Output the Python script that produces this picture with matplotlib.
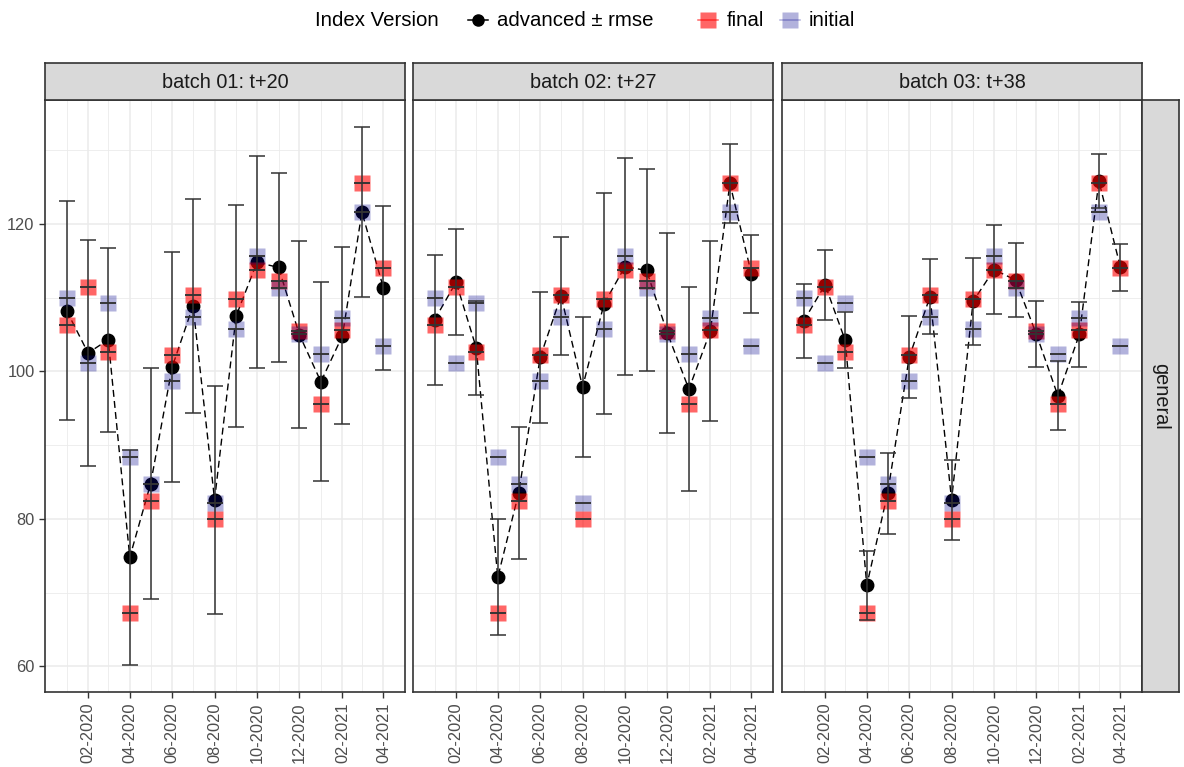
import matplotlib
matplotlib.use('Agg')
from matplotlib import pyplot as plt
from matplotlib.lines import Line2D
import matplotlib.dates as mdates
import numpy as np
import pandas as pd

plt.rcParams['font.family'] = ['Liberation Sans', 'DejaVu Sans']

months = pd.date_range('2020-01-01', '2021-04-01', freq='MS')

# index versions shared by all batches
final = [106.3, 111.4, 102.6, 67.2, 82.5, 102.2, 110.35, 80.0,
         109.8, 113.8, 112.3, 105.5, 95.6, 105.65, 125.6, 114.0]
initial = [110.0, 101.1, 109.3, 88.35, 84.8, 98.65, 107.4, 82.1,
           105.7, 115.6, 111.3, 105.1, 102.4, 107.2, 121.6, 103.4]

batches = ['batch 01: t+20', 'batch 02: t+27', 'batch 03: t+38']

advanced_b1 = [108.26, 102.5, 104.3, 74.8, 84.8, 100.6, 108.9, 82.6,
               107.5, 114.8, 114.1, 105.0, 98.6, 104.85, 121.6, 111.3]
rmse_b1 = [14.85, 15.3, 12.5, 14.55, 15.7, 15.6, 14.5, 15.45,
           15.0, 14.35, 12.8, 12.7, 13.5, 12.0, 11.5, 11.1]

advanced_b2 = [107.0, 112.1, 103.2, 72.1, 83.5, 101.9, 110.25, 97.9,
               109.2, 114.2, 113.7, 105.2, 97.6, 105.5, 125.5, 113.2]
rmse_b2 = [8.85, 7.15, 6.4, 7.85, 8.9, 8.9, 8.0, 9.5,
           15.0, 14.75, 13.7, 13.6, 13.8, 12.2, 5.4, 5.25]

advanced_b3 = [106.8, 111.75, 104.2, 71.0, 83.5, 101.9, 110.15, 82.6,
               109.5, 113.8, 112.4, 105.05, 96.7, 105.05, 125.8, 114.1]
rmse_b3 = [5.0, 4.75, 3.8, 4.7, 5.5, 5.55, 5.1, 5.4,
           5.9, 6.05, 5.0, 4.45, 4.7, 4.4, 3.7, 3.2]

advanced = [advanced_b1, advanced_b2, advanced_b3]
rmse = [rmse_b1, rmse_b2, rmse_b3]

legend_labels = ['advanced \u00b1 rmse', 'final', 'initial']

red = (1.0, 0.0, 0.0, 0.6)
blue = (0.0, 0.0, 0.545, 0.3)
border = '#333333'

fig = plt.figure(figsize=(11.84, 7.67), dpi=100)
W, H = 1184.0, 767.0
lefts = [45, 413, 782]
pw = 360
ptop, pbot, stop = 100, 692.3, 62.7

x = mdates.date2num(months.to_pydatetime())
xlim = (mdates.date2num(pd.Timestamp('2019-12-01')), mdates.date2num(pd.Timestamp('2021-05-02')))
major = pd.date_range('2020-02-01', '2021-04-01', freq='2MS')
minor = pd.date_range('2020-01-01', '2021-03-01', freq='2MS')

for i in range(3):
    ax = fig.add_axes([lefts[i]/W, 1 - pbot/H, pw/W, (pbot - ptop)/H])
    ax.set_xlim(xlim)
    ax.set_ylim(56.5, 136.8)
    ax.set_yticks([60, 80, 100, 120])
    ax.set_yticks([70, 90, 110, 130], minor=True)
    ax.set_xticks(mdates.date2num(major.to_pydatetime()))
    ax.set_xticks(mdates.date2num(minor.to_pydatetime()), minor=True)
    ax.xaxis.set_major_formatter(mdates.DateFormatter('%m-%Y'))
    ax.grid(which='major', color='#EBEBEB', lw=1.1)
    ax.grid(which='minor', color='#EBEBEB', lw=0.6)
    ax.set_axisbelow(True)
    ax.tick_params(which='minor', length=0)
    ax.tick_params(which='major', length=4, color=border, width=1,
                   labelsize=11.8, labelcolor='#4D4D4D')
    plt.setp(ax.get_xticklabels(), rotation=90)
    if i > 0:
        ax.tick_params(axis='y', labelleft=False, length=0)
    for s in ax.spines.values():
        s.set_color(border)
        s.set_linewidth(1.2)

    adv = np.array(advanced[i])
    ax.plot(x, adv, ls=(0, (5, 3)), color='black', lw=1.0, zorder=2)
    ax.plot(x, adv, 'o', color='black', ms=9, zorder=3)
    ax.plot(x, final, 's', color=red, mec='none', ms=11.5, zorder=4)
    ax.plot(x, initial, 's', color=blue, mec='none', ms=11.5, zorder=5)
    ax.errorbar(x, adv, yerr=rmse[i], fmt='none', ecolor=border, elinewidth=1.1,
                capsize=6, capthick=1.1, zorder=6)
    ax.errorbar(x, final, yerr=0, fmt='none', ecolor=border, elinewidth=1.1,
                capsize=6, capthick=1.1, zorder=6)
    ax.errorbar(x, initial, yerr=0, fmt='none', ecolor=border, elinewidth=1.1,
                capsize=6, capthick=1.1, zorder=6)

    # strip on top
    sax = fig.add_axes([lefts[i]/W, 1 - ptop/H, pw/W, (ptop - stop)/H])
    sax.set_facecolor('#D9D9D9')
    sax.set_xticks([])
    sax.set_yticks([])
    for s in sax.spines.values():
        s.set_color(border)
        s.set_linewidth(1.2)
    sax.text(0.5, 0.48, batches[i], ha='center', va='center', fontsize=14.3,
             color='#1A1A1A', transform=sax.transAxes)

# strip on the right
rax = fig.add_axes([1142.3/W, 1 - pbot/H, 37/W, (pbot - ptop)/H])
rax.set_facecolor('#D9D9D9')
rax.set_xticks([])
rax.set_yticks([])
for s in rax.spines.values():
    s.set_color(border)
    s.set_linewidth(1.2)
rax.text(0.5, 0.5, 'general', ha='center', va='center', rotation=-90,
         fontsize=14.3, color='#1A1A1A', transform=rax.transAxes)

# legend, placed item by item to match the uneven spacing
ly = 1 - 20/H
fig.text(315/W, ly, 'Index Version', ha='left', va='center', fontsize=14.7)
key_styles = [
    dict(color='black', marker='o', ms=8),
    dict(color=red, marker='s', mec='none', ms=11),
    dict(color=blue, marker='s', mec='none', ms=11),
]
key_centers = [478, 708, 790]
for style, cx, lab in zip(key_styles, key_centers, legend_labels):
    fig.add_artist(Line2D([(cx - 10)/W, (cx + 10)/W], [ly, ly], lw=1.1,
                          color=style['color'], transform=fig.transFigure))
    fig.add_artist(Line2D([cx/W], [ly], lw=0, transform=fig.transFigure, **style))
    fig.text((cx + 19)/W, ly, lab, ha='left', va='center', fontsize=14.7)

plt.savefig('out.png', dpi=100)
